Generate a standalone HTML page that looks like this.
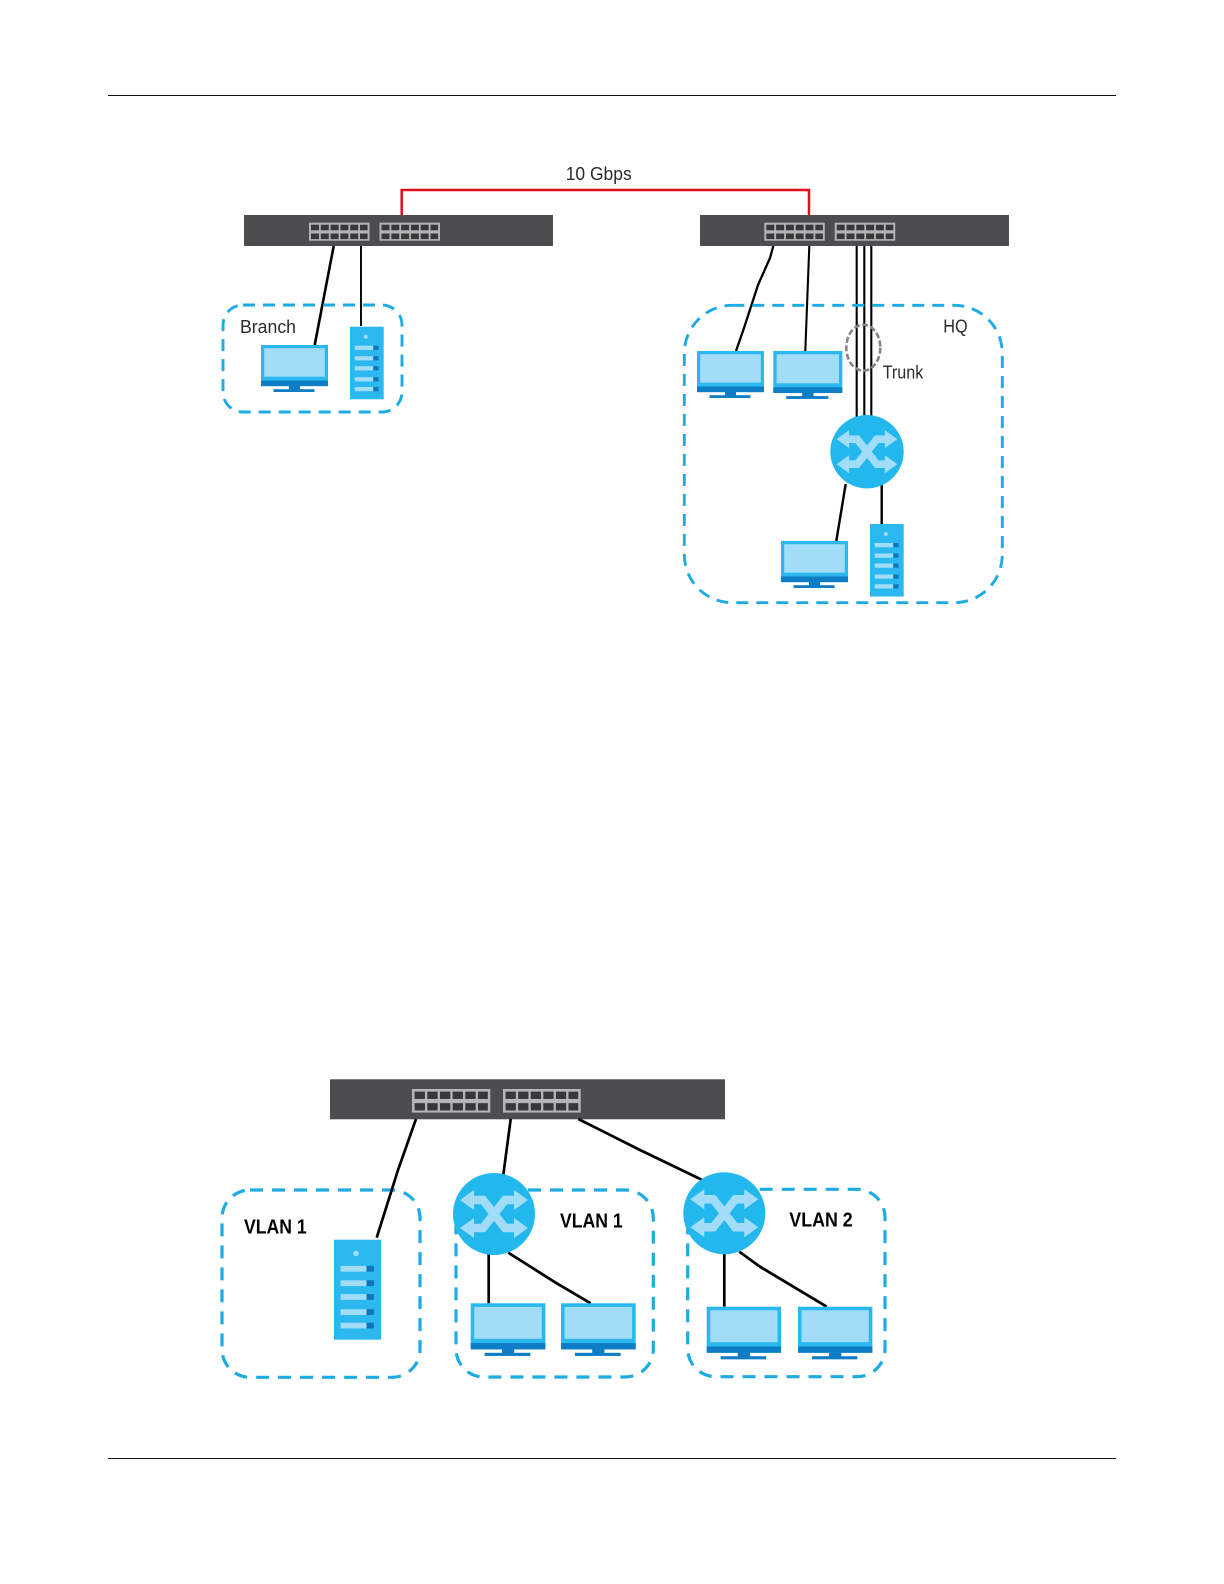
<!DOCTYPE html>
<html>
<head>
<meta charset="utf-8">
<title>Network diagram</title>
<style>
html,body{margin:0;padding:0;background:#fff;}
svg{display:block;}
text{font-family:"Liberation Sans",sans-serif;}
</style>
</head>
<body>
<svg xmlns="http://www.w3.org/2000/svg" width="1224" height="1584" viewBox="0 0 1224 1584">
<defs>
  <filter id="soft" x="-2%" y="-2%" width="104%" height="104%"><feGaussianBlur stdDeviation="0.35"/></filter>
  <g id="ports">
    <rect x="0" y="0" width="60.5" height="18" fill="#b4b5b6"/>
    <g fill="#37383a">
      <rect x="2" y="2" width="8" height="5.6"/><rect x="11.8" y="2" width="8" height="5.6"/><rect x="21.6" y="2" width="8" height="5.6"/><rect x="31.4" y="2" width="8" height="5.6"/><rect x="41.2" y="2" width="8" height="5.6"/><rect x="51" y="2" width="7.6" height="5.6"/>
      <rect x="2" y="10.8" width="8" height="5.6"/><rect x="11.8" y="10.8" width="8" height="5.6"/><rect x="21.6" y="10.8" width="8" height="5.6"/><rect x="31.4" y="10.8" width="8" height="5.6"/><rect x="41.2" y="10.8" width="8" height="5.6"/><rect x="51" y="10.8" width="7.6" height="5.6"/>
    </g>
  </g>
  <g id="monitor">
    <rect x="0" y="0" width="67" height="41" fill="#2bb8ee"/>
    <rect x="3.2" y="3.2" width="60.6" height="28.5" fill="#a1dcf9"/>
    <rect x="0" y="35.5" width="67" height="5.7" fill="#0d7dc6"/>
    <rect x="28" y="41" width="11" height="4" fill="#0d7dc6"/>
    <rect x="12.5" y="44.2" width="41" height="2.8" fill="#0d7dc6"/>
  </g>
  <g id="server">
    <rect x="0" y="0" width="33.7" height="72.6" fill="#2bb8ee"/>
    <circle cx="15.8" cy="10" r="2" fill="#a1dcf9"/>
    <g fill="#a1dcf9">
      <rect x="4.7" y="19" width="18.6" height="4.2"/><rect x="4.7" y="29.5" width="18.6" height="4.2"/><rect x="4.7" y="39.5" width="18.6" height="4.2"/><rect x="4.7" y="50.5" width="18.6" height="4.2"/><rect x="4.7" y="60.3" width="18.6" height="4.2"/>
    </g>
    <g fill="#0d74bc">
      <rect x="23.3" y="19" width="5.3" height="4.2"/><rect x="23.3" y="29.5" width="5.3" height="4.2"/><rect x="23.3" y="39.5" width="5.3" height="4.2"/><rect x="23.3" y="50.5" width="5.3" height="4.2"/><rect x="23.3" y="60.3" width="5.3" height="4.2"/>
    </g>
  </g>
  <g id="hub">
    <circle cx="0" cy="0" r="41" fill="#22b8ee"/>
    <g fill="none" stroke="#a1dcf9" stroke-width="8.5">
      <path d="M-22,-14 L-11,-14 L11,14 L22,14"/>
      <path d="M-22,14 L-11,14 L11,-14 L22,-14"/>
    </g>
    <g fill="#a1dcf9">
      <polygon points="34,-14 20,-24 20,-4"/>
      <polygon points="34,14 20,24 20,4"/>
      <polygon points="-34,-14 -20,-24 -20,-4"/>
      <polygon points="-34,14 -20,24 -20,4"/>
    </g>
  </g>
</defs>

<rect width="1224" height="1584" fill="#fff"/>

<!-- page rules -->
<rect x="108" y="95" width="1008" height="1" fill="#111"/>
<rect x="108" y="1458" width="1008" height="1" fill="#111"/>

<g filter="url(#soft)">
<!-- Top diagram -->
<path d="M401.7,215 V190 H809 V215" fill="none" stroke="#e0101c" stroke-width="2.5"/>
<text x="565.7" y="180" font-size="18" fill="#2c2c2c" textLength="66" lengthAdjust="spacingAndGlyphs">10 Gbps</text>

<rect x="244" y="215" width="309" height="31" fill="#4d4e50"/>
<use href="#ports" x="309" y="222.7"/>
<use href="#ports" x="379.5" y="222.7"/>
<rect x="700" y="215" width="309" height="31" fill="#4d4e50"/>
<use href="#ports" x="764.3" y="222.7"/>
<use href="#ports" x="834.7" y="222.7"/>

<g fill="none" stroke="#000">
  <path d="M333.7,246 L314.7,345" stroke-width="2.6"/>
  <path d="M361,246 V326" stroke-width="1.9"/>
  <path d="M773.3,246 L770,258 L758,285 L744,328 L736,351" stroke-width="2.3"/>
  <path d="M809.3,246 L805.3,351" stroke-width="2.1"/>
  <path d="M856.7,246 V420 M864.3,246 V420 M871.3,246 V420" stroke-width="2.1"/>
  <path d="M845.7,484 L836.3,541" stroke-width="2.4"/>
  <path d="M881.7,484 V524" stroke-width="2.4"/>
</g>

<g fill="none" stroke="#1fabe3" stroke-width="2.9" stroke-dasharray="12 8">
  <rect x="223" y="305" width="179" height="107" rx="20"/>
  <rect x="684.3" y="305.3" width="318" height="297.4" rx="48"/>
</g>

<ellipse cx="863.3" cy="347.7" rx="17" ry="23" fill="none" stroke="#858585" stroke-width="2.6" stroke-dasharray="6 2.5"/>

<text x="240" y="333" font-size="18" fill="#2c2c2c" textLength="56" lengthAdjust="spacingAndGlyphs">Branch</text>
<text x="943.3" y="332.7" font-size="18" fill="#2c2c2c" textLength="24.4" lengthAdjust="spacingAndGlyphs">HQ</text>
<text x="882.7" y="378.3" font-size="18" fill="#2c2c2c" textLength="40.6" lengthAdjust="spacingAndGlyphs">Trunk</text>

<use href="#monitor" x="261" y="345"/>
<use href="#server" x="350" y="326.7"/>
<use href="#monitor" x="697" y="351"/>
<use href="#monitor" transform="translate(773.3,351) scale(1.03,1.02)"/>
<use href="#monitor" x="781" y="541"/>
<use href="#server" x="870" y="524"/>
<use href="#hub" transform="translate(867,451.7) scale(0.895)"/>

<!-- Bottom diagram -->
<rect x="330" y="1079.3" width="395" height="40" fill="#4d4e50"/>
<use href="#ports" transform="translate(412,1089) scale(1.294,1.31)"/>
<use href="#ports" transform="translate(503,1089) scale(1.284,1.31)"/>

<g fill="none" stroke="#1fabe3" stroke-width="3.2" stroke-dasharray="13 9">
  <rect x="222" y="1190" width="198" height="187.3" rx="28"/>
  <rect x="456" y="1190" width="197.3" height="187" rx="28"/>
  <rect x="687.7" y="1189.3" width="197.3" height="187.4" rx="28"/>
</g>

<g fill="none" stroke="#000" stroke-width="2.7">
  <path d="M416,1119 L398,1170 L376.7,1237.7"/>
  <path d="M510.7,1119 L503.3,1175"/>
  <path d="M578.3,1119 L640,1150 L702.3,1180"/>
  <path d="M488.7,1250 V1303.3"/>
  <path d="M508.3,1252.7 L556.7,1283.3 L590.7,1303.3"/>
  <path d="M724.3,1250 V1306.7"/>
  <path d="M739.3,1251.7 L760,1266.7 L826.7,1306.7"/>
</g>

<use href="#hub" transform="translate(494,1214)"/>
<use href="#hub" transform="translate(724.3,1213.3)"/>

<use href="#server" transform="translate(334,1239.7) scale(1.395,1.377)"/>
<use href="#monitor" transform="translate(470.7,1303.3) scale(1.115,1.12)"/>
<use href="#monitor" transform="translate(561,1303.3) scale(1.115,1.12)"/>
<use href="#monitor" transform="translate(706.7,1306.7) scale(1.11,1.12)"/>
<use href="#monitor" transform="translate(798,1306.7) scale(1.11,1.12)"/>

<g font-size="20" font-weight="bold" fill="#000">
  <text x="244" y="1233.3" textLength="62.7" lengthAdjust="spacingAndGlyphs">VLAN 1</text>
  <text x="560" y="1227.3" textLength="62.7" lengthAdjust="spacingAndGlyphs">VLAN 1</text>
  <text x="789.3" y="1226.7" textLength="63.4" lengthAdjust="spacingAndGlyphs">VLAN 2</text>
</g>
</g>
</svg>
</body>
</html>
